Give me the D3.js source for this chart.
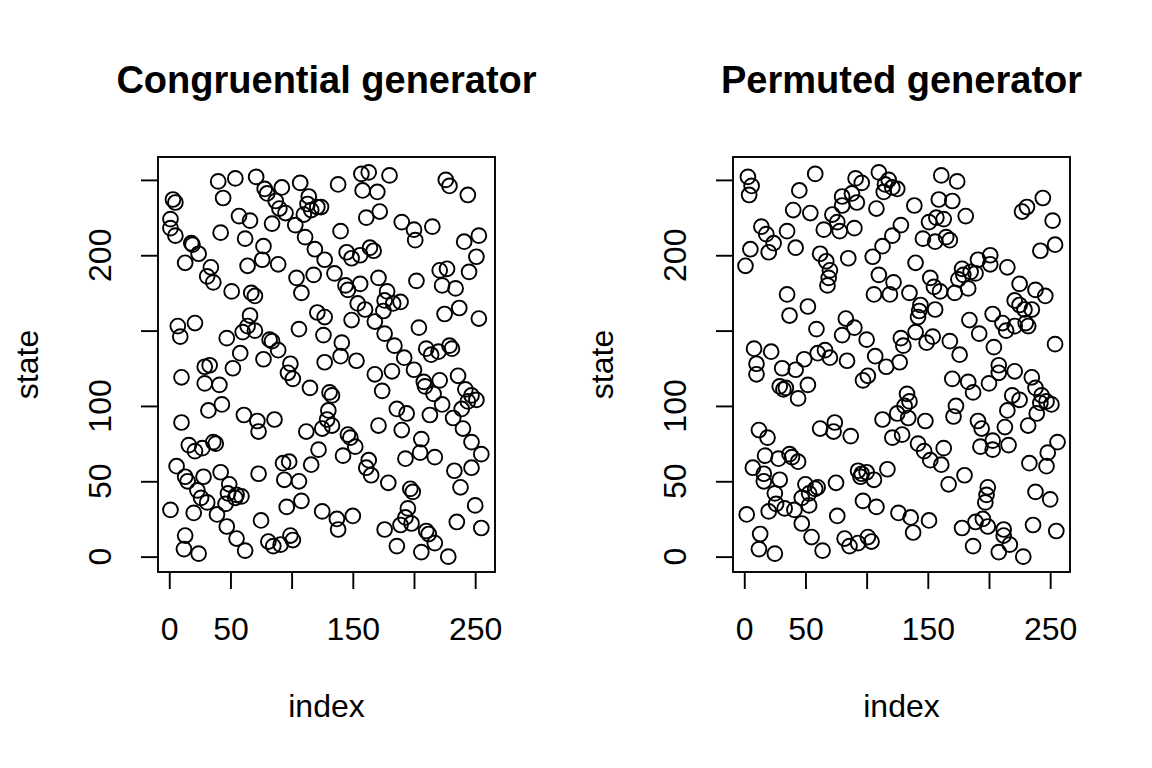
<!DOCTYPE html>
<html><head><meta charset="utf-8">
<script src="https://cdn.jsdelivr.net/npm/d3@7"></script>
<style>
body{margin:0;background:#fff}
svg{display:block}
text{font-family:"Liberation Sans",Arial,Helvetica,sans-serif;fill:#000}
</style>
</head><body><div id="chart"></div>
<script>
// [index, state] pairs
const congPoints = [
[40,249],[54,251],[71,252],[78,244],[80,241],[92,245],[107,248],[3,237],[5,235],[1,224],[1,218],[5,213],[44,238],[87,236],[90,231],[95,228],[114,239],[113,234],[116,230],[121,232],[124,232],[110,227],[57,226],[66,223],[84,221],[103,220],[42,215],[62,211],[77,206],[111,212],[119,204],[18,208],[19,207],[24,201],[13,195],[34,192],[31,186],[36,182],[64,193],[76,197],[89,194],[127,197],[104,185],[118,187],[51,176],[67,175],[70,173],[108,175],
[138,247],[157,254],[163,255],[180,253],[158,243],[170,242],[226,250],[229,246],[244,240],[161,225],[172,229],[190,222],[200,217],[201,210],[215,219],[140,216],[241,209],[253,213],[251,199],[145,202],[149,198],[156,200],[164,205],[167,203],[135,188],[144,180],[146,177],[156,181],[171,185],[178,176],[202,183],[221,190],[227,191],[223,180],[234,178],[245,189],
[7,153],[9,146],[21,155],[47,145],[66,160],[64,153],[60,149],[70,150],[82,144],[84,143],[89,137],[106,151],[121,162],[127,159],[126,147],[58,135],[77,131],[52,125],[29,126],[33,127],[10,119],[29,115],[41,114],[99,128],[97,122],[101,118],[115,112],[127,129],[32,97],[43,101],[10,89],[61,94],[72,90],[73,83],[86,91],[112,83],[125,85],
[154,168],[160,164],[176,170],[183,168],[189,169],[175,163],[149,157],[168,156],[176,148],[184,140],[192,132],[200,124],[208,116],[209,113],[216,108],[223,101],[232,92],[240,85],[204,152],[225,161],[237,165],[253,158],[141,142],[140,133],[153,130],[168,121],[182,123],[174,110],[210,138],[214,134],[220,136],[229,140],[231,138],[236,120],[221,117],[242,111],[247,107],[251,104],[244,103],[239,98],[131,109],[133,107],[186,98],[194,95],[213,94],[171,87],[190,84],[130,97],[129,91],[133,87],
[16,74],[21,70],[27,72],[36,76],[38,75],[6,60],[13,53],[15,50],[28,53],[42,56],[73,55],[93,62],[98,63],[122,71],[116,61],[94,51],[106,50],[23,44],[26,39],[31,36],[49,48],[48,42],[55,41],[59,40],[54,39],[46,35],[39,28],[1,31],[20,29],[96,33],[108,37],[125,30],[75,24],[47,20],[55,12],[62,4],[13,14],[12,5],[24,2],[81,10],[85,7],[91,8],[99,14],[101,11],
[146,81],[148,79],[152,73],[206,78],[247,76],[255,68],[142,67],[163,64],[161,59],[165,54],[179,49],[193,65],[205,69],[217,66],[233,57],[247,59],[238,46],[197,45],[199,43],[250,34],[137,25],[138,18],[150,27],[176,18],[195,32],[193,26],[189,21],[198,22],[186,7],[210,17],[212,15],[217,9],[206,3],[228,0],[235,23],[255,19]
];
const permPoints = [
[3,252],[6,246],[4,240],[58,254],[45,243],[40,230],[54,228],[91,251],[96,248],[80,239],[88,241],[80,233],[92,235],[110,255],[118,250],[115,247],[121,245],[125,244],[114,242],[108,231],[72,227],[76,222],[78,216],[65,217],[90,218],[14,219],[18,214],[24,208],[35,216],[5,204],[20,202],[42,205],[1,193],[62,201],[67,196],[70,190],[69,185],[68,180],[85,198],[105,199],[113,206],[121,213],[128,220],[110,187],[122,182],[35,174],[106,174],[119,174],
[161,253],[174,249],[139,233],[159,237],[170,236],[157,225],[163,224],[151,222],[181,226],[146,211],[156,209],[165,212],[168,210],[231,232],[227,229],[244,238],[252,223],[254,207],[242,203],[140,195],[152,185],[155,179],[160,176],[178,191],[175,184],[179,187],[185,189],[189,188],[183,178],[191,197],[172,175],[201,200],[201,194],[215,192],[225,181],[238,177],[135,175],[246,173],
[37,160],[52,166],[59,151],[83,158],[90,152],[80,147],[100,144],[128,145],[8,138],[22,136],[10,128],[10,121],[31,125],[42,124],[49,131],[60,135],[66,137],[70,132],[84,130],[107,133],[116,126],[127,129],[97,117],[101,120],[29,113],[32,111],[34,112],[44,105],[52,114],[12,84],[62,85],[74,89],[73,83],[113,91],[125,95],
[144,167],[143,163],[142,159],[156,164],[221,170],[225,167],[229,164],[235,164],[130,140],[140,149],[149,142],[154,146],[168,143],[176,134],[184,157],[192,148],[203,161],[211,155],[214,150],[221,153],[230,155],[232,153],[204,139],[254,141],[208,127],[208,122],[221,123],[235,119],[238,112],[170,118],[183,116],[187,109],[200,115],[133,108],[135,103],[131,100],[134,92],[148,90],[173,100],[171,93],[191,90],[194,85],[213,86],[219,107],[225,104],[215,97],[243,107],[247,103],[251,101],[242,102],[239,95],[232,87],
[19,79],[87,80],[121,79],[129,81],[17,67],[28,65],[37,68],[39,66],[44,63],[7,59],[16,55],[16,50],[29,51],[50,48],[58,45],[60,46],[53,42],[47,39],[53,34],[25,42],[26,35],[33,32],[41,31],[75,49],[93,57],[96,55],[95,53],[100,56],[106,51],[117,58],[2,28],[20,30],[47,22],[76,27],[97,37],[108,33],[126,29],[13,15],[12,5],[25,2],[55,13],[64,4],[82,12],[86,7],[93,9],[101,13],[104,10],
[142,75],[147,70],[152,64],[161,61],[163,72],[203,77],[193,73],[203,71],[216,74],[256,76],[248,69],[247,60],[233,62],[180,54],[167,48],[199,46],[198,41],[197,36],[238,43],[250,38],[136,26],[151,24],[138,16],[178,19],[189,23],[195,25],[199,20],[212,18],[212,14],[217,8],[187,7],[208,3],[228,0],[236,21],[255,17]
];
const titles = ["Congruential generator", "Permuted generator"];
const xLabelText = "index";
const yLabelText = "state";
const xTicks = [0, 50, 100, 150, 200, 250];
const xLabelled = [0, 50, 150, 250];
const yTicks = [0, 50, 100, 150, 200, 250];
const yLabelled = [0, 50, 100, 200];

const W = 1152, H = 768;
const FONT = '"Liberation Sans", Arial, Helvetica, sans-serif';
const svg = d3.select("#chart").append("svg").attr("width", W).attr("height", H)
  .style("background", "#fff");
const plotTop = 157, plotBottom = 572;
const panels = [
  {title: titles[0], data: congPoints, left: 158, right: 495},
  {title: titles[1], data: permPoints, left: 733, right: 1070}
];

panels.forEach(p => {
  const x = d3.scaleLinear().domain([-9.2, 266.2]).range([p.left, p.right]);
  const y = d3.scaleLinear().domain([-10.2, 265.2]).range([plotBottom, plotTop]);
  const g = svg.append("g");
  const cx = (p.left + p.right) / 2, cy = (plotTop + plotBottom) / 2;

  g.selectAll("circle").data(p.data).join("circle")
    .attr("cx", d => x(d[0])).attr("cy", d => y(d[1])).attr("r", 7.4)
    .attr("fill", "none").attr("stroke", "#000").attr("stroke-width", 1.9);

  g.append("rect").attr("x", p.left).attr("y", plotTop)
    .attr("width", p.right - p.left).attr("height", plotBottom - plotTop)
    .attr("fill", "none").attr("stroke", "#000").attr("stroke-width", 1.9);

  const xa = g.append("g").attr("transform", `translate(0,${plotBottom})`)
    .call(d3.axisBottom(x).tickValues(xTicks).tickSize(17).tickPadding(28)
      .tickFormat(v => xLabelled.includes(v) ? String(v) : ""));
  xa.select(".domain").remove();
  xa.attr("font-size", 32).attr("font-family", FONT);
  xa.selectAll("line").attr("stroke-width", 1.9);

  const ya = g.append("g").attr("transform", `translate(${p.left},0)`)
    .call(d3.axisLeft(y).tickValues(yTicks).tickSize(17).tickFormat(() => ""));
  ya.select(".domain").remove();
  ya.selectAll("line").attr("stroke-width", 1.9);

  g.selectAll("text.ylab").data(yLabelled).join("text").attr("class", "ylab")
    .attr("transform", v => `translate(${p.left - 47},${y(v)}) rotate(-90)`)
    .attr("text-anchor", "middle").attr("font-size", 32).text(v => String(v));

  g.append("text").attr("x", cx).attr("y", 717).attr("text-anchor", "middle")
    .attr("font-size", 32).text(xLabelText);
  g.append("text").attr("transform", `translate(${p.left - 120},${cy}) rotate(-90)`)
    .attr("text-anchor", "middle").attr("font-size", 32).text(yLabelText);
  g.append("text").attr("x", cx).attr("y", 93).attr("text-anchor", "middle")
    .attr("font-size", 38).attr("font-weight", "bold").text(p.title);
});
</script></body></html>
